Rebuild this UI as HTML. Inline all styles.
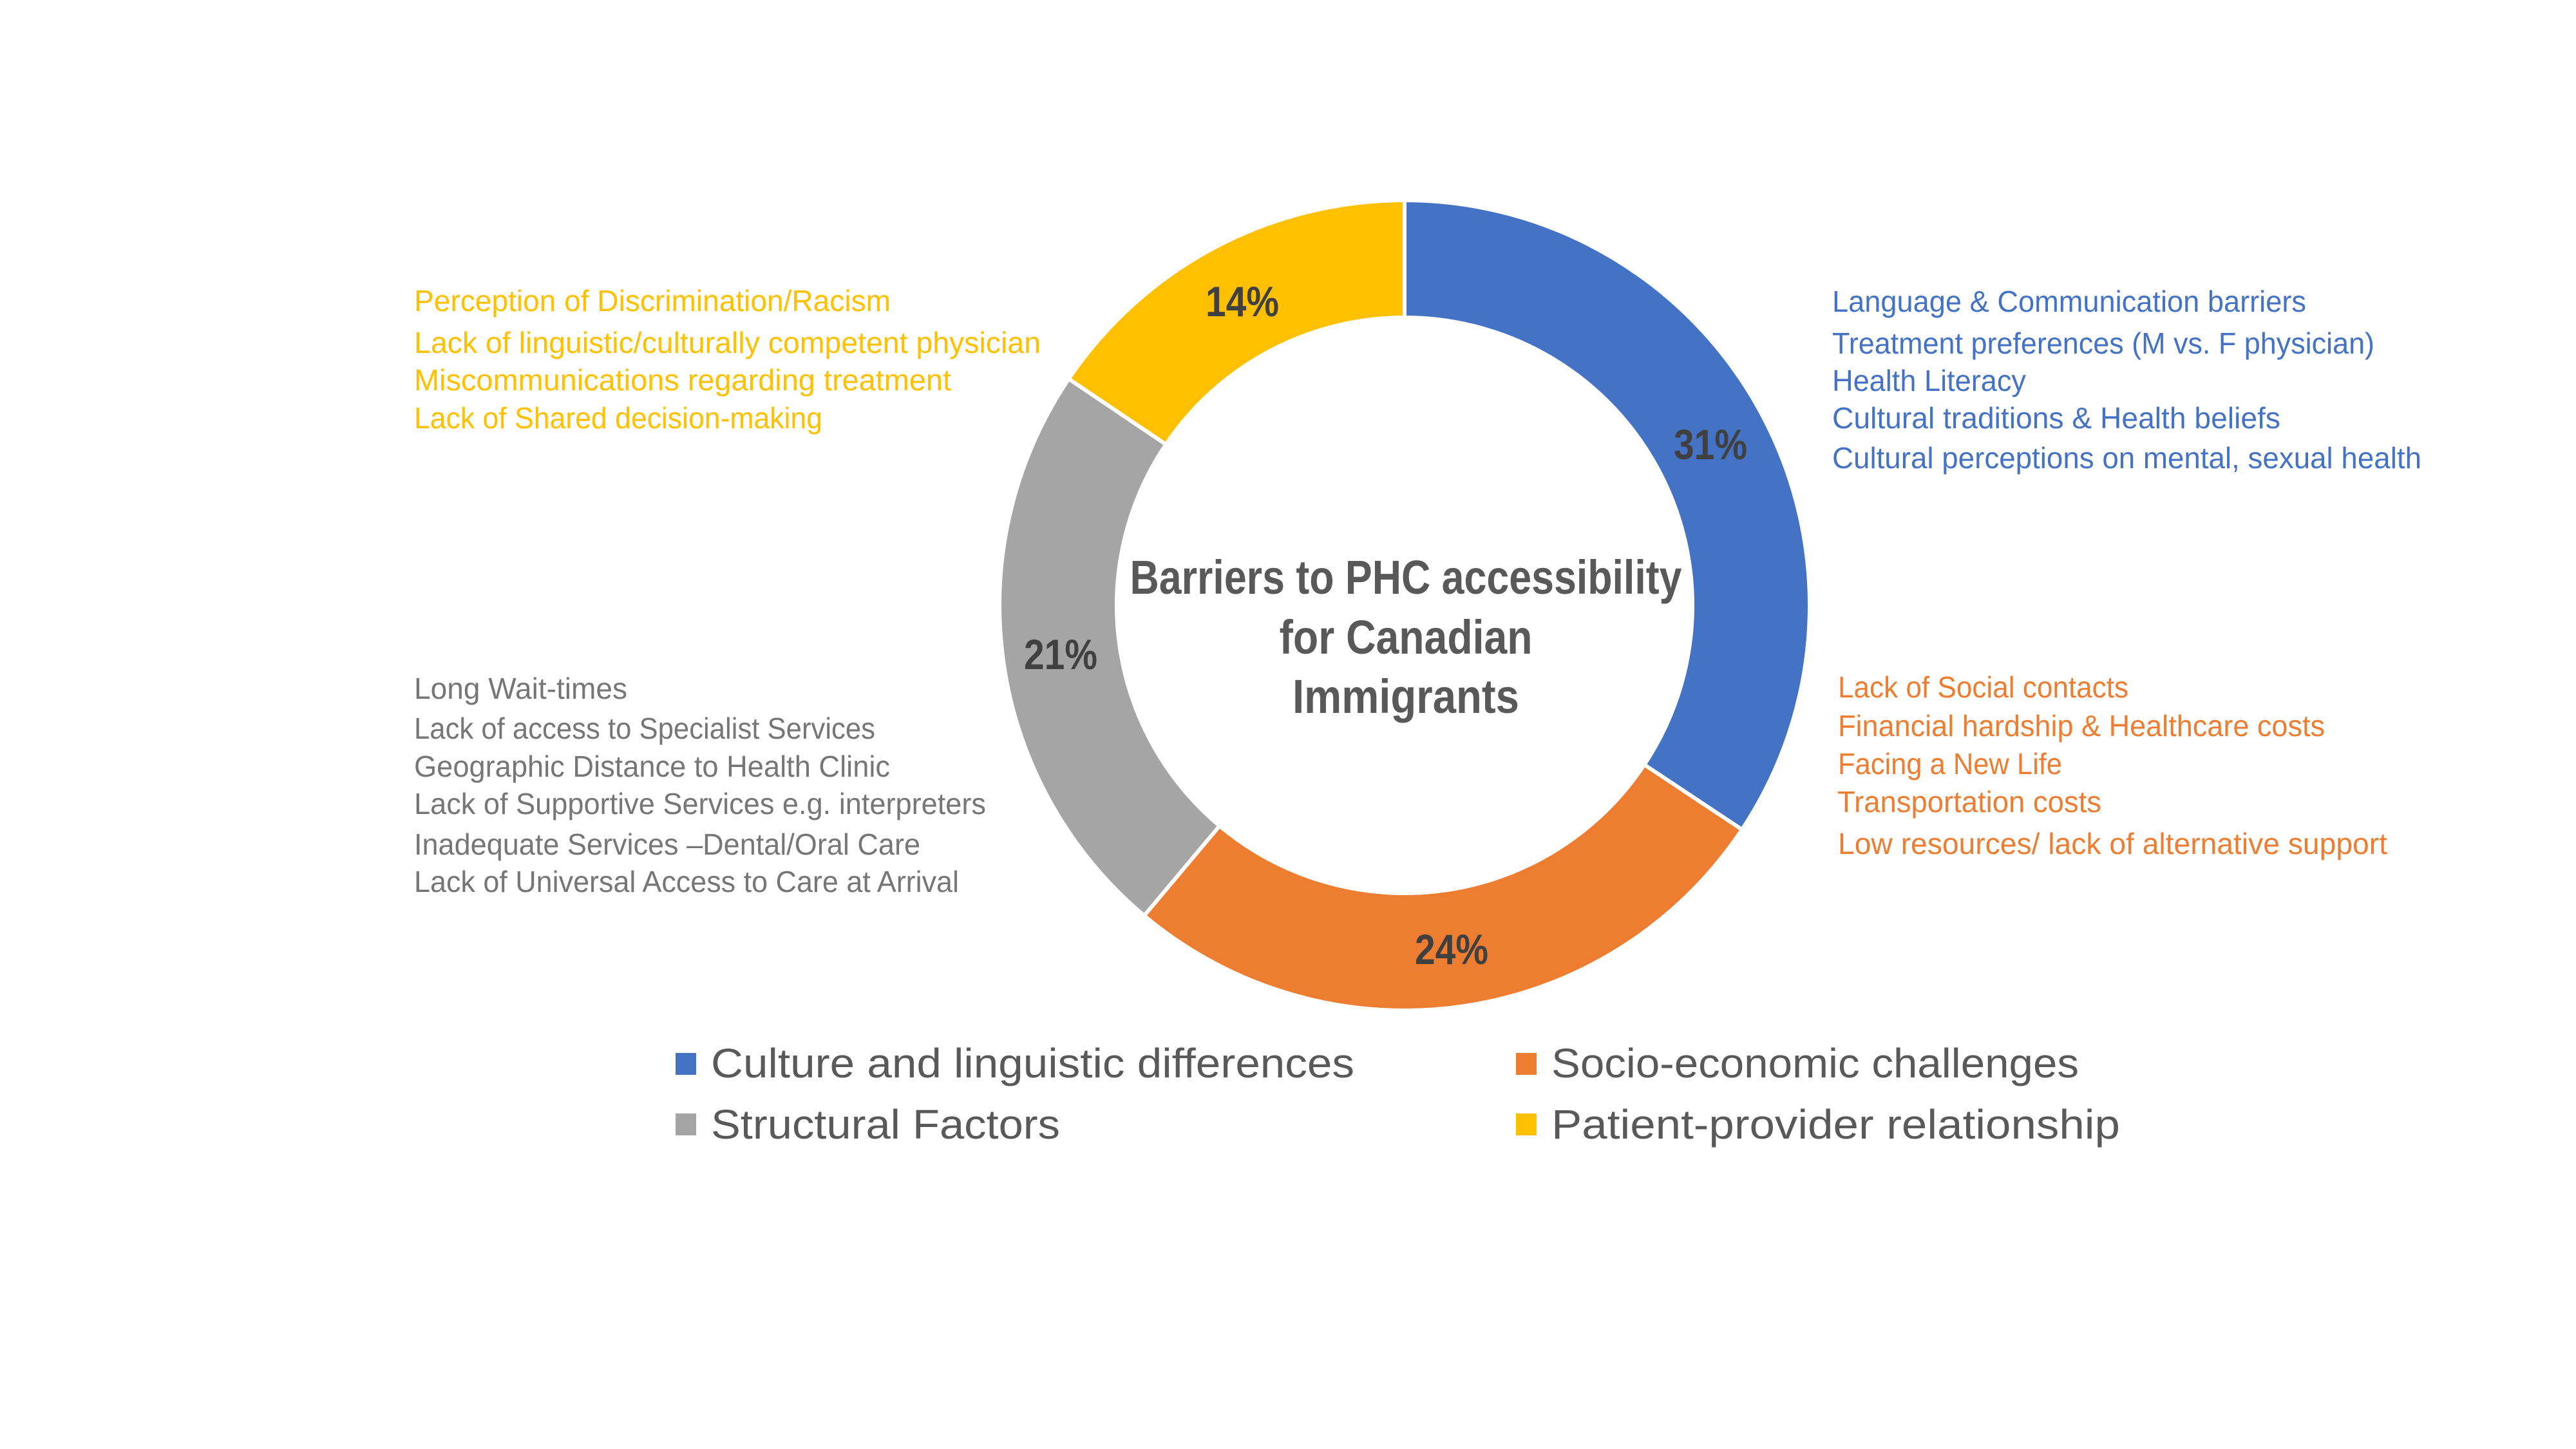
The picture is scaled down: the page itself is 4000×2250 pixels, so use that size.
<!DOCTYPE html>
<html><head><meta charset="utf-8">
<style>
html,body{margin:0;padding:0;background:#fff;}
svg{display:block;}
text{font-family:"Liberation Sans",sans-serif;}
</style></head>
<body>
<svg width="4000" height="2250" viewBox="0 0 4000 2250" xmlns="http://www.w3.org/2000/svg">
<rect width="4000" height="2250" fill="#fff"/>
<g stroke="#fff" stroke-width="6" stroke-linejoin="miter">
<path d="M2181,311 A629,629 0 0 1 2704.9,1288.1 L2553.3,1187.4 A447,447 0 0 0 2181,493 Z" fill="#4472C4"/>
<path d="M2704.9,1288.1 A629,629 0 0 1 1776.7,1421.8 L1893.7,1282.4 A447,447 0 0 0 2553.3,1187.4 Z" fill="#ED7D31"/>
<path d="M1776.7,1421.8 A629,629 0 0 1 1659.6,588.3 L1810.4,690 A447,447 0 0 0 1893.7,1282.4 Z" fill="#A5A5A5"/>
<path d="M1659.6,588.3 A629,629 0 0 1 2181,311 L2181,493 A447,447 0 0 0 1810.4,690 Z" fill="#FFC000"/>
</g>
<g font-weight="bold" font-size="66" fill="#404040" text-anchor="middle">
<text x="2656" y="713" textLength="114" lengthAdjust="spacingAndGlyphs">31%</text>
<text x="1929" y="491" textLength="114" lengthAdjust="spacingAndGlyphs">14%</text>
<text x="1647" y="1039" textLength="114" lengthAdjust="spacingAndGlyphs">21%</text>
<text x="2254" y="1497" textLength="114" lengthAdjust="spacingAndGlyphs">24%</text>
</g>
<g font-weight="bold" font-size="74" fill="#595959" text-anchor="middle">
<text x="2183" y="922" textLength="857" lengthAdjust="spacingAndGlyphs">Barriers to PHC accessibility</text>
<text x="2183" y="1015" textLength="393" lengthAdjust="spacingAndGlyphs">for Canadian</text>
<text x="2183" y="1107" textLength="352" lengthAdjust="spacingAndGlyphs">Immigrants</text>
</g>
<g font-size="46" fill="#FFC000">
<text x="643" y="483" textLength="740" lengthAdjust="spacingAndGlyphs">Perception of Discrimination/Racism</text>
<text x="643" y="548" textLength="973" lengthAdjust="spacingAndGlyphs">Lack of linguistic/culturally competent physician</text>
<text x="643" y="606" textLength="834" lengthAdjust="spacingAndGlyphs">Miscommunications regarding treatment</text>
<text x="643" y="665" textLength="634" lengthAdjust="spacingAndGlyphs">Lack of Shared decision-making</text>
</g>
<g font-size="46" fill="#767676">
<text x="643" y="1085" textLength="331" lengthAdjust="spacingAndGlyphs">Long Wait-times</text>
<text x="643" y="1147" textLength="716" lengthAdjust="spacingAndGlyphs">Lack of access to Specialist Services</text>
<text x="643" y="1206" textLength="739" lengthAdjust="spacingAndGlyphs">Geographic Distance to Health Clinic</text>
<text x="643" y="1264" textLength="888" lengthAdjust="spacingAndGlyphs">Lack of Supportive Services e.g. interpreters</text>
<text x="643" y="1327" textLength="786" lengthAdjust="spacingAndGlyphs">Inadequate Services –Dental/Oral Care</text>
<text x="643" y="1385" textLength="846" lengthAdjust="spacingAndGlyphs">Lack of Universal Access to Care at Arrival</text>
</g>
<g font-size="46" fill="#4472C4">
<text x="2845" y="484" textLength="736" lengthAdjust="spacingAndGlyphs">Language &amp; Communication barriers</text>
<text x="2845" y="549" textLength="842" lengthAdjust="spacingAndGlyphs">Treatment preferences (M vs. F physician)</text>
<text x="2845" y="607" textLength="301" lengthAdjust="spacingAndGlyphs">Health Literacy</text>
<text x="2845" y="665" textLength="696" lengthAdjust="spacingAndGlyphs">Cultural traditions &amp; Health beliefs</text>
<text x="2845" y="727" textLength="915" lengthAdjust="spacingAndGlyphs">Cultural perceptions on mental, sexual health</text>
</g>
<g font-size="46" fill="#ED7D31">
<text x="2854" y="1083" textLength="451" lengthAdjust="spacingAndGlyphs">Lack of Social contacts</text>
<text x="2854" y="1143" textLength="756" lengthAdjust="spacingAndGlyphs">Financial hardship &amp; Healthcare costs</text>
<text x="2854" y="1202" textLength="348" lengthAdjust="spacingAndGlyphs">Facing a New Life</text>
<text x="2853" y="1261" textLength="410" lengthAdjust="spacingAndGlyphs">Transportation costs</text>
<text x="2854" y="1326" textLength="853" lengthAdjust="spacingAndGlyphs">Low resources/ lack of alternative support</text>
</g>
<rect x="1049" y="1635" width="32" height="34" fill="#4472C4"/>
<rect x="2354" y="1635" width="32" height="34" fill="#ED7D31"/>
<rect x="1049" y="1729" width="32" height="34" fill="#A5A5A5"/>
<rect x="2354" y="1729" width="32" height="34" fill="#FFC000"/>
<g font-size="64" fill="#595959">
<text x="1104" y="1673" textLength="999" lengthAdjust="spacingAndGlyphs">Culture and linguistic differences</text>
<text x="2409" y="1673" textLength="819" lengthAdjust="spacingAndGlyphs">Socio-economic challenges</text>
<text x="1104" y="1768" textLength="542" lengthAdjust="spacingAndGlyphs">Structural Factors</text>
<text x="2409" y="1768" textLength="883" lengthAdjust="spacingAndGlyphs">Patient-provider relationship</text>
</g>
</svg>
</body></html>
